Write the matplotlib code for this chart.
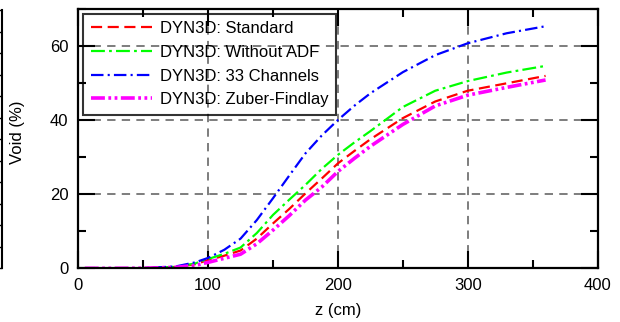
import matplotlib
matplotlib.use("Agg")
import matplotlib.pyplot as plt
from matplotlib.ticker import MultipleLocator

plt.rcParams['font.family'] = ['Liberation Sans', 'DejaVu Sans']
plt.rcParams['lines.scale_dashes'] = False

# Data
z = [5, 25, 50, 75, 90, 100, 112.5, 125, 137.5, 150, 162.5, 175, 187.5,
     200, 212.5, 225, 250, 275, 300, 330, 360]
standard = [0, 0, 0.05, 0.35, 1.1, 2.2, 3.4, 4.8, 8.0, 12.1, 16.0, 20.2, 24.2,
            28.3, 31.6, 34.8, 40.5, 45.0, 47.9, 49.9, 51.9]
without_adf = [0, 0, 0.05, 0.4, 1.3, 2.5, 3.9, 5.6, 9.5, 14.4, 18.5, 22.5, 26.8,
               30.6, 33.9, 37.0, 43.5, 47.9, 50.5, 52.8, 54.6]
channels33 = [0, 0, 0.05, 0.5, 1.6, 2.8, 5.0, 8.0, 13.0, 18.9, 25.0, 31.0, 35.8,
              40.0, 43.8, 47.2, 52.9, 57.5, 60.7, 63.4, 65.3]
zuber = [0, 0, 0.03, 0.25, 0.8, 1.6, 2.7, 3.8, 6.6, 10.3, 14.2, 18.4, 21.9,
         26.1, 29.6, 32.9, 38.8, 43.8, 46.7, 48.8, 50.8]

labels = ['DYN3D: Standard', 'DYN3D: Without ADF', 'DYN3D: 33 Channels',
          'DYN3D: Zuber-Findlay']
xticks = [0, 100, 200, 300, 400]
yticks = [0, 20, 40, 60]

fig = plt.figure(figsize=(6.2, 3.22), dpi=100)
W, H = 620, 322
l, r, t, b = 78.3, 597.5, 8.8, 268.3
ax = fig.add_axes([l / W, 1 - b / H, (r - l) / W, (b - t) / H])

ax.plot(z, standard, color='#ff0000', lw=1.6, dashes=(8, 4), label=labels[0])
ax.plot(z, without_adf, color='#00ff00', lw=1.6, dashes=(10, 3, 2, 3), label=labels[1])
ax.plot(z, channels33, color='#0000ff', lw=1.6, dashes=(9, 3, 1.5, 3), label=labels[2])
ax.plot(z, zuber, color='#ff00ff', lw=2.6, dashes=(10, 2.5, 2, 2.5, 2, 2.5), label=labels[3])

ax.set_xlim(0, 400)
ax.set_ylim(0, 70)
ax.set_xticks(xticks)
ax.set_yticks(yticks)
ax.xaxis.set_minor_locator(MultipleLocator(50))
ax.yaxis.set_minor_locator(MultipleLocator(10))
ax.tick_params(which='both', direction='in', top=True, right=True, width=1.5,
               labelsize=12, colors='black')
ax.tick_params(which='major', length=12.5, pad=7)
ax.tick_params(which='minor', length=6)
for s in ax.spines.values():
    s.set_linewidth(1.6)

ax.grid(True, which='major', color='#5a5a5a', lw=1.1, linestyle=(0, (6, 4.5)))
ax.set_axisbelow(True)

ax.set_xlabel('z (cm)', fontsize=12)
ax.set_ylabel('Void (%)', fontsize=12)
ax.xaxis.set_label_coords(0.5, -0.134)
ax.yaxis.set_label_coords(-0.103, 0.525)

leg = ax.legend(loc='upper left', fontsize=12, frameon=True, fancybox=False,
                borderaxespad=0.3, borderpad=0.45, labelspacing=0.52,
                handlelength=3.7, handletextpad=0.45)
leg.get_frame().set_edgecolor('black')
leg.get_frame().set_facecolor('none')
leg.get_frame().set_linewidth(1.5)

# Edge of the neighbouring panel at the far left
ax0 = fig.add_axes([-0.2, 1 - 268 / H, 0.2 + 2 / W, (268 - 10) / H])
ax0.set_ylim(0, 12)
ax0.set_yticks(range(13))
ax0.yaxis.tick_right()
ax0.tick_params(axis='y', direction='in', length=3, width=1, labelright=False)
ax0.set_xticks([])
for k in ['left', 'top', 'bottom']:
    ax0.spines[k].set_visible(False)
ax0.spines['right'].set_linewidth(1.5)
ax0.patch.set_visible(False)

fig.savefig('out.png', dpi=100)
